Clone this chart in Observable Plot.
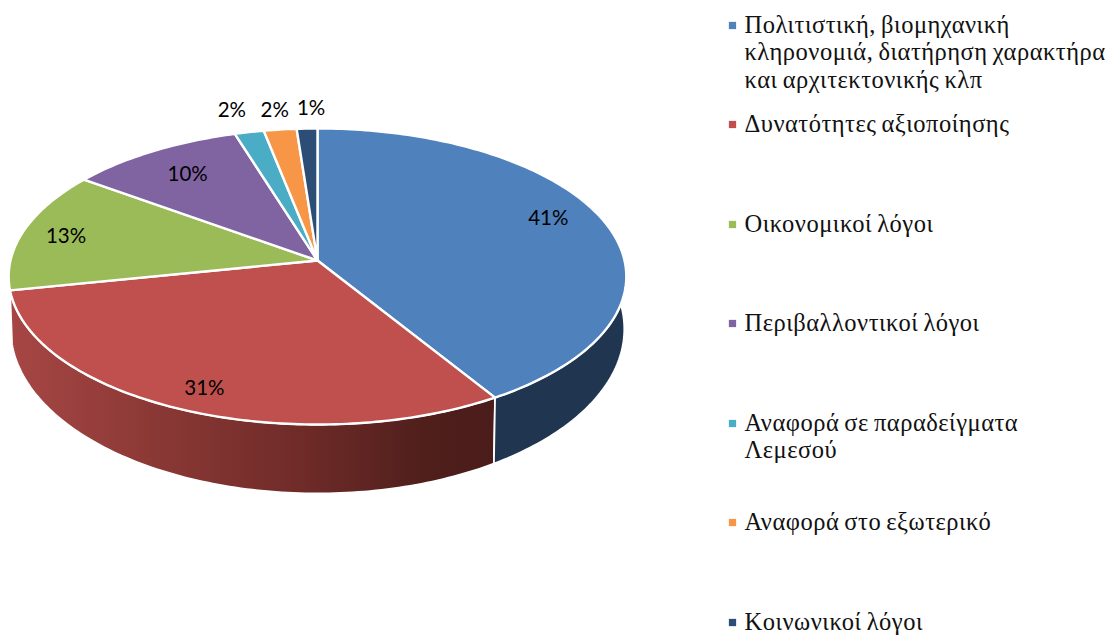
<!DOCTYPE html>
<html lang="el">
<head>
<meta charset="utf-8">
<style>
html,body{margin:0;padding:0;background:#fff}
svg{display:block}
g[font-family="Liberation Serif"]{letter-spacing:.5px;word-spacing:-1.5px}
</style>
<script src="https://cdn.jsdelivr.net/npm/d3@7"></script>
<script src="https://cdn.jsdelivr.net/npm/@observablehq/plot@0.6"></script>
</head>
<body>
<div id="chart"></div>
<script>
// Data
const categories = [
  "Πολιτιστική, βιομηχανική\nκληρονομιά, διατήρηση χαρακτήρα\nκαι αρχιτεκτονικής κλπ",
  "Δυνατότητες αξιοποίησης",
  "Οικονομικοί λόγοι",
  "Περιβαλλοντικοί λόγοι",
  "Αναφορά σε παραδείγματα\nΛεμεσού",
  "Αναφορά στο εξωτερικό",
  "Κοινωνικοί λόγοι"
];
const shares = [41.2, 30.6, 13.2, 10.2, 1.7, 1.9, 1.2];

// Styles and layout
const topColors = ["#4f81bd", "#c0504d", "#9bbb59", "#8064a2", "#4bacc6", "#f79646", "#2c4d75"];
const sideColors = ["#1f3550", "url(#redSide)"];
const labelRadius = [0.83, 0.865, 0.85, 0.775, 1.195, 1.165, 1.17];
const labelTurn = [-5, -0.5, -1, 0, -1, 0, 1];
const legendY = [25, 124, 224, 323, 423, 522, 622];

// Perspective view of the pie's two rings (top face and bottom face)
const topRing = {cx: 317, cy: 260, a: 307, b: 146.3, k: 0.108};
const bottomRing = {cx: 317, cy: 310.7, a: 305, b: 162.6, k: 0.108};
const project = (ring, deg, r = 1) => {
  const t = (deg * Math.PI) / 180;
  const u = r * Math.sin(t), v = -r * Math.cos(t);
  const w = 1 / (1 - ring.k * v);
  return {x: ring.cx + ring.a * u * w, y: ring.cy + ring.b * v * w};
};

const total = d3.sum(shares);
let running = 0;
const slices = shares.map((value, i) => {
  const start = (running / total) * 360;
  running += value;
  const end = (running / total) * 360;
  return {i, value, start, end, mid: (start + end) / 2};
});
const arcPoints = (ring, a0, a1) => {
  const n = Math.max(2, Math.ceil(Math.abs(a1 - a0)));
  return d3.range(n + 1).map((j) => project(ring, a0 + ((a1 - a0) * j) / n));
};
const wedge = (s) => {
  const c = project(topRing, 0, 0);
  return [c, ...arcPoints(topRing, s.start, s.end), c];
};
const sideFace = (s, from) => {
  const top = arcPoints(topRing, from, s.end);
  const bottom = arcPoints(bottomRing, s.end, from);
  return [...top, ...bottom, top[0]];
};

const gradient = () => {
  const defs = d3.create("svg:defs");
  const g = defs.append("linearGradient").attr("id", "redSide")
    .attr("gradientUnits", "userSpaceOnUse")
    .attr("x1", 12).attr("x2", 495).attr("y1", 0).attr("y2", 0);
  [[0, "#a64644"], [0.3, "#8a3835"], [0.6, "#6f2b28"], [0.85, "#501f1c"], [1, "#4a1c1a"]].forEach(([o, c]) =>
    g.append("stop").attr("offset", o).attr("stop-color", c));
  return defs.node();
};

const labels = slices.map((s) => ({
  ...project(topRing, s.mid + labelTurn[s.i], labelRadius[s.i]),
  text: `${Math.round(s.value)}%`
}));
const legend = categories.map((name, i) => ({name, y: legendY[i], color: topColors[i]}));

const plot = Plot.plot({
  width: 1120,
  height: 635,
  margin: 0,
  x: {domain: [0, 1120], range: [0, 1120], axis: null},
  y: {domain: [0, 635], range: [0, 635], axis: null},
  style: {background: "#fff"},
  marks: [
    gradient,
    ...[slices[1], slices[0]].map((s) =>
      Plot.line(sideFace(s, s.i === 0 ? 60 : s.start), {
        x: "x", y: "y", fill: sideColors[s.i], stroke: "#fff", strokeWidth: 1.8
      })),
    ...slices.map((s) =>
      Plot.line(wedge(s), {x: "x", y: "y", fill: topColors[s.i], stroke: "#fff", strokeWidth: 2.4})),
    Plot.text(labels, {
      x: "x", y: "y", text: "text", fill: "#000",
      fontFamily: "Lato", fontSize: 20.5, textAnchor: "middle"
    }),
    Plot.dot(legend, {x: () => 732, y: "y", symbol: "square", r: 4.1, fill: "color", stroke: "none"}),
    Plot.text(legend, {
      x: () => 744, y: "y", dy: -12, text: "name", fill: "#111",
      fontFamily: "Liberation Serif", fontSize: 24.5, textAnchor: "start",
      lineAnchor: "top", lineHeight: 1.12
    })
  ]
});
document.getElementById("chart").append(plot);
</script>
</body>
</html>
